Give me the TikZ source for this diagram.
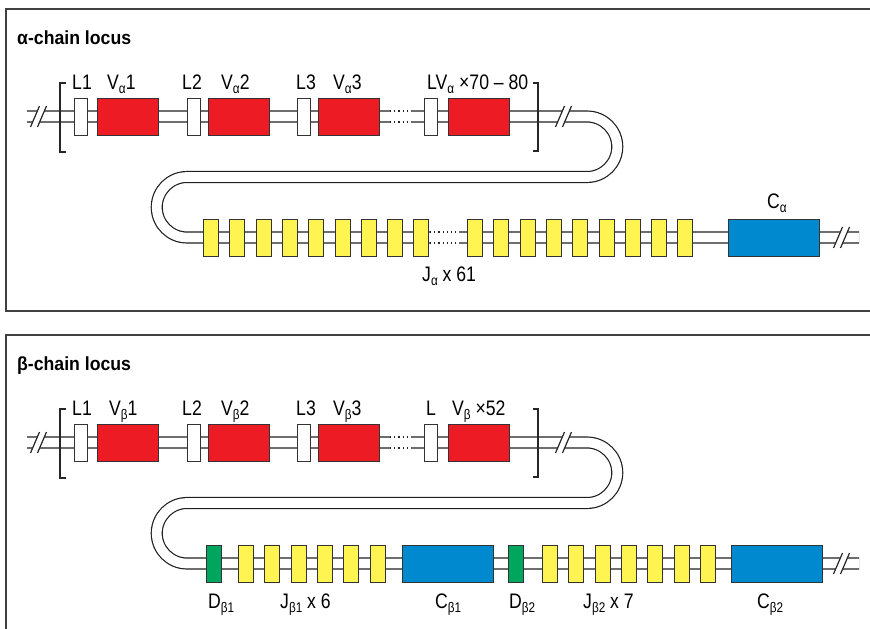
\documentclass[tikz,border=0pt]{standalone}
\usepackage{fontspec}
\setmainfont{Liberation Sans}
\newfontfamily\lblfont[FakeStretch=0.84]{Liberation Sans}
\newfontfamily\ttlfont[FakeStretch=0.93]{Liberation Sans}
\definecolor{vred}{HTML}{ED1C24}
\definecolor{jyel}{HTML}{FFF451}
\definecolor{cblue}{HTML}{0089CF}
\definecolor{dgreen}{HTML}{00A65D}
\newcommand{\sbs}[1]{\raisebox{-0.4ex}{\fontsize{14}{14}\selectfont #1}}
\newcommand{\slashbreak}[3]{%
  \fill[white] ({#1-2.6},{#3+6.6}) -- ({#1+2.6},{#3-6.6}) -- ({#2+2.6},{#3-6.6}) -- ({#2-2.6},{#3+6.6}) -- cycle;
  \draw[slash] ({#1-4.5},{#3+10.5}) -- ({#1+4.5},{#3-10.5});
  \draw[slash] ({#2-4.5},{#3+10.5}) -- ({#2+4.5},{#3-10.5});}
\newcommand{\dotgap}[3]{%
  \fill[white] (#1,{#3-7}) rectangle (#2,{#3+7});
  \draw[dots] (#1,{#3-5.45}) -- (#2,{#3-5.45}) (#1,{#3+5.45}) -- (#2,{#3+5.45});}
\begin{document}
\begin{tikzpicture}[x=1pt,y=-1pt,
  chrom/.style={draw=black!88,line width=1.2pt,double=white,double distance=9.7pt},
  gene/.style={draw=black!80,line width=1pt,minimum height=37pt,inner sep=0pt,anchor=west},
  lbox/.style={gene,fill=white,minimum width=13pt},
  vbox/.style={gene,fill=vred,minimum width=61pt},
  jbox/.style={gene,fill=jyel,minimum width=15pt},
  cbox/.style={gene,fill=cblue,minimum width=91pt},
  dbox/.style={gene,fill=dgreen,minimum width=15pt},
  lbl/.style={font=\lblfont\fontsize{21}{25}\selectfont,anchor=base west,inner sep=0pt},
  ttl/.style={font=\ttlfont\bfseries\fontsize{19}{22}\selectfont,anchor=base west,inner sep=0pt},
  frame/.style={draw=black!75,line width=1.5pt},
  brk/.style={draw=black!85,line width=1.1pt},
  dots/.style={draw=black!85,line width=1.2pt,dash pattern=on 1.2pt off 3pt},
  slash/.style={draw=black!85,line width=1.2pt}]
\useasboundingbox (0,0) rectangle (870,629);
% ---------------- alpha panel ----------------
\draw[frame] (6,9) rectangle (890,311);
\node[ttl] (ta) at (17,44) {α-chain locus};
\coordinate (a0) at (27,116.5);
\coordinate (a1) at (587,116.5);
\coordinate (a2) at (187,177);
\coordinate (a3) at (859,237.5);
\draw[chrom] (a0) -- (a1) arc[start angle=-90,end angle=90,radius=30.25] -- (a2) arc[start angle=270,end angle=90,radius=30.25] -- (a3);
\draw[brk] (66,83) -- (60,83) -- (60,152) -- (66,152);
\draw[brk] (533,83) -- (538,83) -- (538,151) -- (533,151);
\slashbreak{35}{42}{116.5}
\slashbreak{560}{567}{116.5}
\slashbreak{838}{845}{237.5}
\dotgap{390}{411}{116.5}
\dotgap{430}{459}{237.5}
\foreach \n/\lx/\vx in {1/74/97,2/187/208,3/297/318,4/424/448}{
  \node[lbox] (aL\n) at (\lx,116.5) {};
  \node[vbox] (aV\n) at (\vx,116.5) {};}
\foreach \i in {0,...,8}{
  \node[jbox] (aJ\i) at ({203+26.3*\i},237.5) {};
  \node[jbox] (aK\i) at ({467+26.3*\i},237.5) {};}
\node[cbox] (aC) at (728,237.5) {};
\node[lbl] (la1) at (72,89) {L1};
\node[lbl] (la2) at (107,89) {V\sbs{α}1};
\node[lbl] (la3) at (182,89) {L2};
\node[lbl] (la4) at (221,89) {V\sbs{α}2};
\node[lbl] (la5) at (296,89) {L3};
\node[lbl] (la6) at (333,89) {V\sbs{α}3};
\node[lbl] (la7) at (427,89) {LV\sbs{α} ×70 – 80};
\node[lbl] (la8) at (422,281) {J\sbs{α} x 61};
\node[lbl] (la9) at (767,208) {C\sbs{α}};
% ---------------- beta panel ----------------
\draw[frame] (6,335) rectangle (890,650);
\node[ttl] (tb) at (17,370) {β-chain locus};
\coordinate (b0) at (27,442.5);
\coordinate (b1) at (587,442.5);
\coordinate (b2) at (187,503);
\coordinate (b3) at (859,563.5);
\draw[chrom] (b0) -- (b1) arc[start angle=-90,end angle=90,radius=30.25] -- (b2) arc[start angle=270,end angle=90,radius=30.25] -- (b3);
\draw[brk] (66,409) -- (60,409) -- (60,478) -- (66,478);
\draw[brk] (533,409) -- (538,409) -- (538,477) -- (533,477);
\slashbreak{35}{42}{442.5}
\slashbreak{560}{567}{442.5}
\slashbreak{838}{845}{563.5}
\dotgap{390}{411}{442.5}
\foreach \n/\lx/\vx in {1/74/97,2/187/208,3/297/318,4/424/448}{
  \node[lbox] (bL\n) at (\lx,442.5) {};
  \node[vbox] (bV\n) at (\vx,442.5) {};}
\node[dbox] (bD1) at (206,563.5) {};
\foreach \i in {0,...,5}{\node[jbox] (bJ\i) at ({238+26.3*\i},563.5) {};}
\node[cbox] (bC1) at (402,563.5) {};
\node[dbox] (bD2) at (508,563.5) {};
\foreach \i in {0,...,6}{\node[jbox] (bK\i) at ({542+26.3*\i},563.5) {};}
\node[cbox] (bC2) at (731,563.5) {};
\node[lbl] (lb1) at (72,415) {L1};
\node[lbl] (lb2) at (109,415) {V\sbs{β}1};
\node[lbl] (lb3) at (182,415) {L2};
\node[lbl] (lb4) at (221,415) {V\sbs{β}2};
\node[lbl] (lb5) at (296,415) {L3};
\node[lbl] (lb6) at (333,415) {V\sbs{β}3};
\node[lbl] (lb7) at (426,415) {L};
\node[lbl] (lb8) at (452,415) {V\sbs{β} ×52};
\node[lbl] (lb9) at (208,608) {D\sbs{β1}};
\node[lbl] (lb10) at (280,608) {J\sbs{β1} x 6};
\node[lbl] (lb11) at (435,608) {C\sbs{β1}};
\node[lbl] (lb12) at (509,608) {D\sbs{β2}};
\node[lbl] (lb13) at (583,608) {J\sbs{β2} x 7};
\node[lbl] (lb14) at (757,608) {C\sbs{β2}};
\end{tikzpicture}
\end{document}
